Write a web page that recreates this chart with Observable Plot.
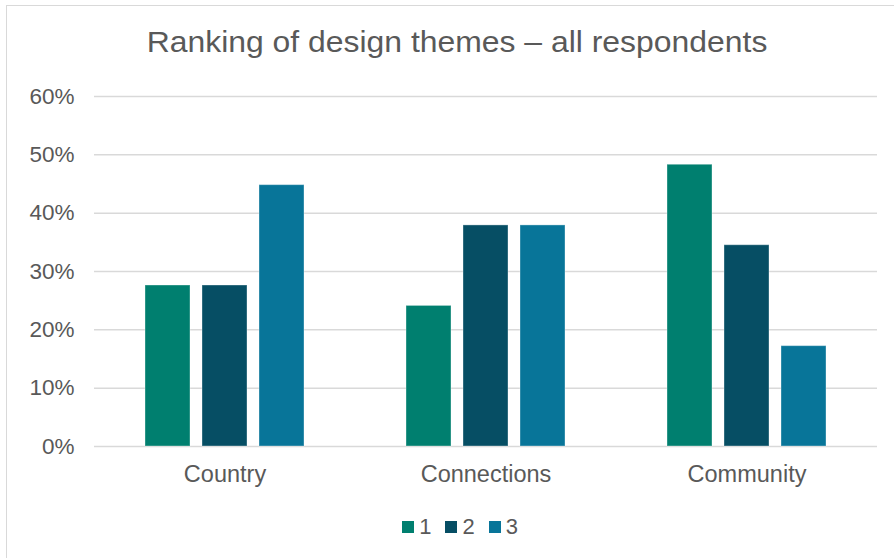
<!DOCTYPE html>
<html>
<head>
<meta charset="utf-8">
<script src="https://cdn.jsdelivr.net/npm/d3@7"></script>
<script src="https://cdn.jsdelivr.net/npm/@observablehq/plot@0.6"></script>
<style>
  html, body { margin: 0; padding: 0; background: #fff; }
  body { width: 894px; height: 558px; position: relative; overflow: hidden; font-family: "Liberation Sans", Arial, sans-serif; color: #595959; }
  #frame { position: absolute; left: 6px; top: 5px; width: 900px; height: 600px; border: 1.5px solid #d9d9d9; box-sizing: border-box; }
  #title { position: absolute; left: 0; width: 914px; top: 26px; text-align: center; font-size: 29px; color: #595959; white-space: nowrap; transform: scaleX(1.1); transform-origin: 457px 0; }
  #chart { position: absolute; left: 0; top: 0; }
  #legend { position: absolute; top: 514px; left: 0; width: 920px; display: flex; justify-content: center; font-size: 22px; color: #595959; }
  .item { display: flex; align-items: center; margin: 0 7px; }
  .sw { width: 12px; height: 12px; margin-right: 5px; }
</style>
</head>
<body>
<div id="frame"></div>
<div id="chart"></div>
<div id="title">Ranking of design themes – all respondents</div>
<div id="legend"></div>
<script>
const categories = ["Country", "Connections", "Community"];
const series = ["1", "2", "3"];
const colors = ["#007F6F", "#064E64", "#087599"];
const values1 = [0.276, 0.241, 0.483];
const values2 = [0.276, 0.379, 0.345];
const values3 = [0.448, 0.379, 0.172];
const yTicks = [0, 0.1, 0.2, 0.3, 0.4, 0.5, 0.6];

const allValues = [values1, values2, values3];
const data = [];
categories.forEach((c, i) => {
  series.forEach((s, j) => data.push({category: c, rank: s, value: allValues[j][i]}));
});

const chart = Plot.plot({
  width: 894,
  height: 500,
  marginTop: 96,
  marginBottom: 54,
  marginLeft: 93,
  marginRight: 17,
  style: {fontFamily: "Liberation Sans, Arial, sans-serif", color: "#595959", background: "transparent"},
  fx: {domain: categories, padding: 0, label: null},
  x: {domain: series, paddingInner: 0.208, paddingOuter: 0.868, axis: null},
  y: {domain: [0, 0.6], label: null},
  color: {domain: series, range: colors},
  marks: [
    Plot.ruleY(yTicks, {stroke: "#d9d9d9", strokeWidth: 1.5}),
    Plot.barY(data, {fx: "category", x: "rank", y: "value", fill: "rank", stroke: "#ffffff", strokeOpacity: 0.35, strokeWidth: 1}),
    Plot.axisY({ticks: yTicks, tickFormat: d3.format(".0%"), tickSize: 0, tickPadding: 20, fontSize: 22.5, label: null}),
    Plot.axisFx({anchor: "bottom", tickSize: 0, tickPadding: 19, fontSize: 23.5, label: null})
  ]
});
chart.querySelectorAll("text").forEach(t => t.setAttribute("fill", "#595959"));
document.getElementById("chart").appendChild(chart);

const legend = document.getElementById("legend");
series.forEach((s, i) => {
  const item = document.createElement("div");
  item.className = "item";
  const sw = document.createElement("div");
  sw.className = "sw";
  sw.style.background = colors[i];
  const lab = document.createElement("span");
  lab.textContent = s;
  item.appendChild(sw);
  item.appendChild(lab);
  legend.appendChild(item);
});
</script>
</body>
</html>
